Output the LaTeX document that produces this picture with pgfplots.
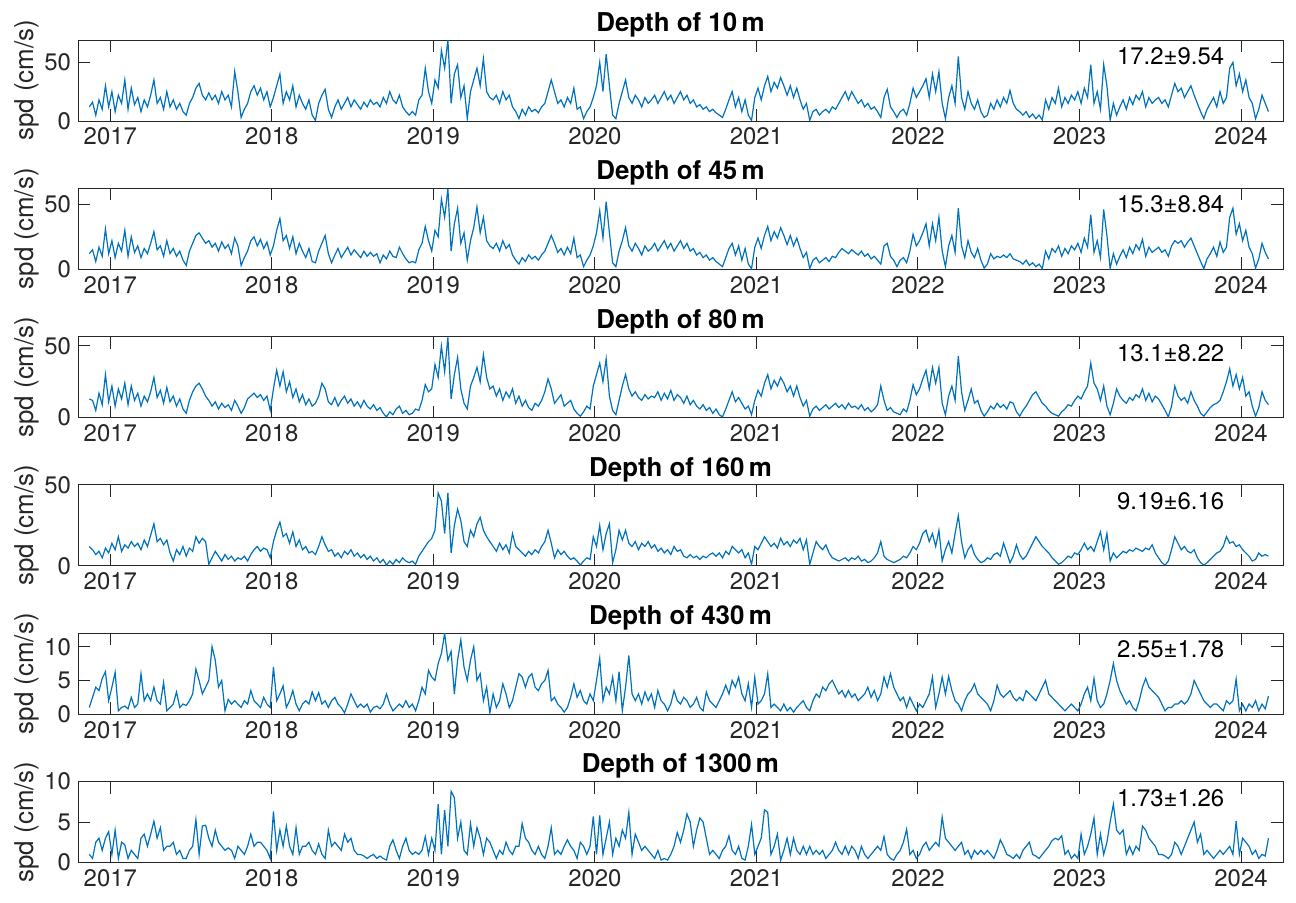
\documentclass[border=0pt]{standalone}
\usepackage{fontspec}
\setmainfont{TeX Gyre Heros}
\usepackage{pgfplots}
\pgfplotsset{compat=1.18}
\usepackage{pgfplotstable}
\definecolor{mblue}{RGB}{0,114,189}
\definecolor{axgray}{RGB}{38,38,38}

% weekly-ish samples (step 0.02 yr from 2016.87)
\pgfplotstableread[row sep=\\]{
v\\
12\\ 16\\ 5\\ 18\\ 10\\ 30\\ 12\\ 25\\ 8\\ 22\\ 15\\ 35\\ 10\\ 28\\ 14\\ 20\\ 8\\ 18\\ 12\\ 22\\ 35\\ 15\\ 20\\ 10\\ 25\\
12\\ 18\\ 10\\ 15\\ 8\\ 5\\ 15\\ 20\\ 28\\ 32\\ 22\\ 18\\ 24\\ 18\\ 22\\ 15\\ 25\\ 18\\ 22\\ 12\\ 42\\ 25\\ 3\\ 10\\ 15\\
25\\ 30\\ 22\\ 28\\ 18\\ 25\\ 12\\ 20\\ 30\\ 40\\ 15\\ 25\\ 18\\ 30\\ 12\\ 22\\ 15\\ 10\\ 18\\ 5\\ 0.5\\ 15\\ 22\\ 27\\ 10\\
3\\ 12\\ 18\\ 10\\ 15\\ 20\\ 12\\ 18\\ 14\\ 10\\ 16\\ 12\\ 18\\ 14\\ 16\\ 12\\ 20\\ 15\\ 25\\ 18\\ 15\\ 22\\ 12\\ 8\\ 5\\
8\\ 5\\ 18\\ 22\\ 45\\ 25\\ 15\\ 35\\ 28\\ 60\\ 45\\ 69\\ 15\\ 40\\ 48\\ 20\\ 30\\ 2\\ 25\\ 35\\ 45\\ 30\\ 53\\ 25\\ 20\\
18\\ 22\\ 15\\ 25\\ 18\\ 22\\ 12\\ 8\\ 2\\ 10\\ 5\\ 12\\ 8\\ 10\\ 7\\ 12\\ 15\\ 25\\ 35\\ 25\\ 15\\ 18\\ 12\\ 20\\ 15\\
28\\ 10\\ 12\\ 2\\ 8\\ 12\\ 20\\ 30\\ 50\\ 25\\ 57\\ 30\\ 5\\ 2\\ 15\\ 25\\ 35\\ 20\\ 15\\ 22\\ 18\\ 12\\ 20\\ 15\\ 18\\
22\\ 15\\ 20\\ 25\\ 18\\ 22\\ 15\\ 20\\ 25\\ 18\\ 22\\ 15\\ 18\\ 12\\ 14\\ 10\\ 12\\ 8\\ 10\\ 7\\ 5\\ 3\\ 10\\ 18\\ 25\\
12\\ 20\\ 8\\ 18\\ 5\\ 0.5\\ 20\\ 28\\ 18\\ 30\\ 38\\ 25\\ 33\\ 28\\ 37\\ 30\\ 22\\ 30\\ 20\\ 28\\ 18\\ 10\\ 15\\ 0.5\\ 8\\
10\\ 5\\ 8\\ 10\\ 7\\ 12\\ 10\\ 15\\ 20\\ 25\\ 18\\ 25\\ 20\\ 15\\ 18\\ 12\\ 15\\ 10\\ 12\\ 8\\ 3\\ 20\\ 27\\ 12\\ 8\\
3\\ 8\\ 10\\ 5\\ 15\\ 28\\ 20\\ 25\\ 30\\ 36\\ 20\\ 40\\ 25\\ 42\\ 15\\ 2\\ 20\\ 30\\ 15\\ 55\\ 20\\ 10\\ 25\\ 15\\ 10\\
18\\ 8\\ 3\\ 5\\ 15\\ 10\\ 18\\ 12\\ 20\\ 15\\ 26\\ 15\\ 10\\ 8\\ 5\\ 8\\ 3\\ 6\\ 2\\ 5\\ 1\\ 18\\ 10\\ 20\\ 15\\
28\\ 12\\ 20\\ 15\\ 22\\ 18\\ 25\\ 15\\ 28\\ 20\\ 48\\ 15\\ 25\\ 10\\ 48\\ 30\\ 0.5\\ 15\\ 5\\ 12\\ 18\\ 10\\ 20\\ 14\\ 22\\
18\\ 25\\ 12\\ 20\\ 15\\ 18\\ 20\\ 15\\ 18\\ 12\\ 22\\ 32\\ 25\\ 28\\ 20\\ 25\\ 30\\ 22\\ 15\\ 8\\ 2\\ 10\\ 15\\ 20\\ 12\\
25\\ 15\\ 20\\ 45\\ 50\\ 30\\ 40\\ 25\\ 35\\ 20\\ 15\\ 2\\ 10\\ 22\\ 15\\ 8\\
}\dA

\pgfplotstableread[row sep=\\]{
v\\
12\\ 15\\ 6\\ 17\\ 10\\ 31\\ 12\\ 22\\ 9\\ 20\\ 14\\ 30\\ 10\\ 25\\ 13\\ 18\\ 9\\ 16\\ 12\\ 20\\ 29\\ 15\\ 18\\ 10\\ 22\\
12\\ 16\\ 10\\ 14\\ 7\\ 3\\ 14\\ 20\\ 26\\ 28\\ 24\\ 20\\ 22\\ 17\\ 20\\ 14\\ 21\\ 16\\ 19\\ 12\\ 24\\ 18\\ 3\\ 9\\ 14\\
22\\ 25\\ 18\\ 23\\ 16\\ 21\\ 11\\ 18\\ 30\\ 39\\ 22\\ 26\\ 16\\ 25\\ 12\\ 20\\ 14\\ 9\\ 16\\ 6\\ 5\\ 14\\ 20\\ 26\\ 12\\
5\\ 11\\ 16\\ 9\\ 13\\ 17\\ 11\\ 15\\ 12\\ 9\\ 14\\ 10\\ 13\\ 10\\ 12\\ 5\\ 11\\ 8\\ 14\\ 10\\ 9\\ 17\\ 12\\ 8\\ 5\\
6\\ 5\\ 15\\ 20\\ 33\\ 22\\ 14\\ 30\\ 25\\ 54\\ 40\\ 62\\ 14\\ 35\\ 47\\ 20\\ 28\\ 7\\ 22\\ 32\\ 48\\ 28\\ 40\\ 22\\ 18\\
16\\ 20\\ 14\\ 22\\ 16\\ 19\\ 11\\ 7\\ 4\\ 9\\ 6\\ 11\\ 8\\ 10\\ 7\\ 11\\ 14\\ 20\\ 26\\ 20\\ 13\\ 16\\ 11\\ 17\\ 12\\
24\\ 9\\ 11\\ 2\\ 7\\ 11\\ 18\\ 28\\ 45\\ 24\\ 52\\ 28\\ 5\\ 2\\ 14\\ 22\\ 32\\ 18\\ 14\\ 20\\ 16\\ 11\\ 18\\ 14\\ 16\\
20\\ 14\\ 18\\ 22\\ 16\\ 20\\ 14\\ 18\\ 22\\ 16\\ 20\\ 14\\ 16\\ 11\\ 13\\ 9\\ 11\\ 7\\ 9\\ 6\\ 4\\ 2\\ 9\\ 16\\ 20\\
11\\ 18\\ 7\\ 16\\ 4\\ 0.5\\ 17\\ 24\\ 16\\ 26\\ 33\\ 22\\ 29\\ 24\\ 32\\ 26\\ 19\\ 26\\ 18\\ 24\\ 16\\ 9\\ 13\\ 0.5\\ 7\\
9\\ 5\\ 7\\ 9\\ 6\\ 10\\ 9\\ 13\\ 16\\ 14\\ 12\\ 15\\ 13\\ 11\\ 14\\ 10\\ 12\\ 8\\ 10\\ 7\\ 4\\ 18\\ 20\\ 10\\ 7\\
2\\ 7\\ 9\\ 5\\ 14\\ 27\\ 18\\ 22\\ 28\\ 35\\ 18\\ 35\\ 22\\ 40\\ 14\\ 2\\ 18\\ 26\\ 13\\ 47\\ 18\\ 9\\ 22\\ 13\\ 9\\
16\\ 7\\ 1\\ 4\\ 12\\ 8\\ 10\\ 9\\ 11\\ 9\\ 12\\ 8\\ 7\\ 6\\ 4\\ 7\\ 3\\ 5\\ 2\\ 4\\ 0.5\\ 14\\ 8\\ 16\\ 13\\
18\\ 10\\ 16\\ 12\\ 18\\ 15\\ 20\\ 13\\ 24\\ 17\\ 42\\ 13\\ 22\\ 9\\ 46\\ 26\\ 0.5\\ 12\\ 4\\ 10\\ 15\\ 9\\ 17\\ 12\\ 19\\
15\\ 23\\ 10\\ 17\\ 13\\ 15\\ 17\\ 13\\ 15\\ 10\\ 18\\ 22\\ 20\\ 22\\ 17\\ 21\\ 24\\ 18\\ 12\\ 6\\ 0.5\\ 8\\ 12\\ 17\\ 10\\
21\\ 13\\ 17\\ 40\\ 47\\ 27\\ 35\\ 22\\ 30\\ 17\\ 12\\ 1\\ 8\\ 20\\ 13\\ 8\\
}\dB

\pgfplotstableread[row sep=\\]{
v\\
13\\ 12\\ 5\\ 17\\ 9\\ 30\\ 11\\ 22\\ 8\\ 20\\ 13\\ 24\\ 9\\ 22\\ 12\\ 17\\ 8\\ 15\\ 11\\ 18\\ 28\\ 14\\ 19\\ 10\\ 21\\
11\\ 15\\ 8\\ 13\\ 6\\ 3\\ 12\\ 18\\ 22\\ 24\\ 20\\ 15\\ 12\\ 8\\ 11\\ 6\\ 10\\ 7\\ 9\\ 5\\ 12\\ 8\\ 3\\ 7\\ 13\\
15\\ 17\\ 14\\ 16\\ 12\\ 15\\ 5\\ 20\\ 33\\ 22\\ 32\\ 18\\ 25\\ 14\\ 20\\ 11\\ 16\\ 9\\ 13\\ 8\\ 10\\ 15\\ 24\\ 20\\ 11\\
9\\ 14\\ 8\\ 12\\ 15\\ 10\\ 13\\ 8\\ 11\\ 7\\ 12\\ 8\\ 6\\ 9\\ 5\\ 7\\ 3\\ 0.5\\ 4\\ 2\\ 6\\ 8\\ 3\\ 5\\ 2\\
3\\ 6\\ 5\\ 12\\ 23\\ 18\\ 20\\ 37\\ 28\\ 50\\ 32\\ 56\\ 13\\ 30\\ 42\\ 20\\ 10\\ 6\\ 22\\ 28\\ 35\\ 25\\ 44\\ 28\\ 20\\
22\\ 15\\ 20\\ 12\\ 18\\ 14\\ 20\\ 10\\ 15\\ 8\\ 12\\ 7\\ 5\\ 10\\ 8\\ 12\\ 18\\ 27\\ 20\\ 10\\ 13\\ 16\\ 8\\ 10\\ 12\\
6\\ 3\\ 1\\ 4\\ 8\\ 6\\ 22\\ 30\\ 38\\ 25\\ 41\\ 15\\ 5\\ 2\\ 12\\ 22\\ 30\\ 20\\ 15\\ 18\\ 14\\ 12\\ 16\\ 13\\ 15\\
14\\ 18\\ 12\\ 17\\ 13\\ 19\\ 12\\ 16\\ 14\\ 10\\ 15\\ 9\\ 12\\ 8\\ 6\\ 9\\ 5\\ 7\\ 3\\ 6\\ 2\\ 0.5\\ 6\\ 12\\ 18\\
11\\ 14\\ 10\\ 6\\ 8\\ 2\\ 12\\ 19\\ 15\\ 24\\ 30\\ 20\\ 26\\ 22\\ 28\\ 24\\ 18\\ 22\\ 15\\ 22\\ 14\\ 8\\ 12\\ 1\\ 6\\
8\\ 5\\ 7\\ 9\\ 6\\ 8\\ 10\\ 7\\ 9\\ 6\\ 10\\ 7\\ 8\\ 6\\ 9\\ 5\\ 7\\ 4\\ 6\\ 9\\ 22\\ 12\\ 5\\ 7\\ 4\\
3\\ 2\\ 6\\ 4\\ 12\\ 23\\ 16\\ 20\\ 27\\ 33\\ 20\\ 35\\ 24\\ 35\\ 10\\ 2\\ 15\\ 22\\ 12\\ 43\\ 18\\ 5\\ 12\\ 20\\ 10\\
12\\ 5\\ 1\\ 4\\ 8\\ 6\\ 10\\ 7\\ 9\\ 6\\ 11\\ 10\\ 4\\ 1\\ 5\\ 8\\ 12\\ 16\\ 18\\ 14\\ 10\\ 8\\ 5\\ 3\\ 2\\
1\\ 4\\ 6\\ 9\\ 8\\ 12\\ 15\\ 13\\ 18\\ 22\\ 38\\ 24\\ 20\\ 12\\ 22\\ 8\\ 2\\ 10\\ 20\\ 15\\ 12\\ 10\\ 14\\ 12\\ 16\\
14\\ 20\\ 12\\ 17\\ 11\\ 15\\ 13\\ 9\\ 5\\ 0.5\\ 8\\ 22\\ 15\\ 12\\ 14\\ 10\\ 18\\ 12\\ 8\\ 3\\ 1\\ 4\\ 7\\ 9\\ 10\\
12\\ 18\\ 25\\ 34\\ 22\\ 30\\ 20\\ 28\\ 15\\ 18\\ 8\\ 1\\ 7\\ 18\\ 12\\ 9\\
}\dC

\pgfplotstableread[row sep=\\]{
v\\
12\\ 10\\ 7\\ 9\\ 5\\ 11\\ 8\\ 14\\ 10\\ 18\\ 9\\ 13\\ 11\\ 15\\ 12\\ 14\\ 10\\ 16\\ 12\\ 19\\ 26\\ 15\\ 17\\ 13\\ 16\\
8\\ 3\\ 10\\ 7\\ 12\\ 6\\ 11\\ 9\\ 18\\ 14\\ 17\\ 15\\ 1\\ 5\\ 9\\ 6\\ 3\\ 7\\ 4\\ 6\\ 3\\ 5\\ 4\\ 6\\ 3\\
7\\ 10\\ 12\\ 9\\ 11\\ 10\\ 5\\ 15\\ 22\\ 27\\ 18\\ 20\\ 14\\ 21\\ 12\\ 16\\ 10\\ 12\\ 8\\ 9\\ 7\\ 12\\ 18\\ 13\\ 9\\
10\\ 6\\ 8\\ 5\\ 9\\ 7\\ 10\\ 6\\ 8\\ 5\\ 7\\ 4\\ 6\\ 3\\ 5\\ 2\\ 4\\ 0.5\\ 3\\ 1\\ 4\\ 2\\ 5\\ 3\\ 2\\
3\\ 1\\ 6\\ 9\\ 12\\ 15\\ 17\\ 22\\ 45\\ 40\\ 20\\ 45\\ 8\\ 25\\ 35\\ 28\\ 15\\ 12\\ 22\\ 18\\ 26\\ 30\\ 22\\ 18\\ 15\\
12\\ 9\\ 14\\ 10\\ 13\\ 8\\ 20\\ 12\\ 10\\ 8\\ 6\\ 9\\ 7\\ 10\\ 8\\ 12\\ 15\\ 22\\ 14\\ 5\\ 10\\ 7\\ 9\\ 6\\ 4\\
5\\ 3\\ 0.5\\ 3\\ 5\\ 4\\ 18\\ 12\\ 25\\ 10\\ 20\\ 26\\ 2\\ 10\\ 22\\ 16\\ 22\\ 14\\ 12\\ 15\\ 10\\ 14\\ 12\\ 15\\ 11\\
13\\ 9\\ 11\\ 8\\ 10\\ 7\\ 12\\ 9\\ 10\\ 6\\ 5\\ 7\\ 5\\ 6\\ 4\\ 6\\ 5\\ 7\\ 8\\ 6\\ 8\\ 5\\ 9\\ 7\\ 12\\
10\\ 8\\ 10\\ 5\\ 8\\ 1\\ 12\\ 10\\ 14\\ 18\\ 15\\ 12\\ 14\\ 11\\ 17\\ 13\\ 15\\ 12\\ 16\\ 14\\ 17\\ 10\\ 16\\ 1\\ 8\\
15\\ 12\\ 10\\ 13\\ 8\\ 5\\ 4\\ 3\\ 4\\ 5\\ 3\\ 5\\ 4\\ 6\\ 3\\ 4\\ 2\\ 3\\ 5\\ 8\\ 15\\ 6\\ 4\\ 3\\ 2\\
3\\ 4\\ 6\\ 5\\ 8\\ 12\\ 10\\ 14\\ 20\\ 22\\ 15\\ 20\\ 12\\ 22\\ 3\\ 10\\ 15\\ 8\\ 20\\ 31\\ 15\\ 5\\ 10\\ 13\\ 7\\
4\\ 2\\ 3\\ 5\\ 4\\ 7\\ 8\\ 6\\ 14\\ 8\\ 2\\ 6\\ 13\\ 7\\ 4\\ 6\\ 10\\ 14\\ 18\\ 15\\ 12\\ 10\\ 8\\ 5\\ 3\\
1\\ 2\\ 4\\ 6\\ 5\\ 8\\ 7\\ 10\\ 14\\ 10\\ 12\\ 9\\ 15\\ 21\\ 10\\ 20\\ 3\\ 8\\ 5\\ 7\\ 9\\ 8\\ 10\\ 9\\ 11\\
10\\ 9\\ 11\\ 10\\ 13\\ 8\\ 5\\ 2\\ 0.5\\ 3\\ 10\\ 18\\ 14\\ 10\\ 12\\ 9\\ 8\\ 10\\ 5\\ 2\\ 0.5\\ 2\\ 4\\ 6\\ 8\\
9\\ 12\\ 18\\ 14\\ 15\\ 12\\ 13\\ 10\\ 8\\ 6\\ 3\\ 4\\ 8\\ 6\\ 7\\ 6\\
}\dD

\pgfplotstableread[row sep=\\]{
v\\
1\\ 2.5\\ 4\\ 3.5\\ 5.3\\ 6.3\\ 2\\ 4\\ 6.2\\ 0.5\\ 1\\ 1.2\\ 0.8\\ 2.5\\ 1\\ 1.5\\ 6\\ 2\\ 3\\ 2\\ 4\\ 2\\ 1.5\\ 4.7\\ 0.5\\
1\\ 1.5\\ 3.3\\ 1\\ 1.5\\ 1.3\\ 2\\ 3\\ 6.7\\ 5\\ 3\\ 4\\ 5\\ 10\\ 8\\ 4\\ 5\\ 0.5\\ 2.2\\ 1.5\\ 2\\ 1.5\\ 1\\ 2\\ 1.5\\
3.5\\ 2\\ 1.5\\ 1\\ 2.5\\ 1.5\\ 1\\ 7\\ 2\\ 3\\ 4.2\\ 1\\ 2\\ 3.5\\ 1.5\\ 0.5\\ 1.5\\ 2\\ 1.5\\ 3.3\\ 2\\ 3.2\\ 1.5\\ 2\\ 1\\
2\\ 2.5\\ 1.5\\ 1\\ 0.2\\ 1.5\\ 3\\ 2\\ 1\\ 1.5\\ 1\\ 1.5\\ 0.3\\ 1\\ 1.2\\ 0.8\\ 1.5\\ 3\\ 1.5\\ 0.5\\ 1\\ 1.5\\ 1\\ 2\\ 1\\
1.5\\ 0.5\\ 2\\ 4\\ 3\\ 6.5\\ 5.5\\ 5\\ 7.5\\ 9\\ 12\\ 8\\ 9.3\\ 3\\ 8\\ 11\\ 7\\ 5\\ 8\\ 10\\ 5\\ 6\\ 2\\ 4\\ 0.2\\
3\\ 1\\ 2\\ 4.5\\ 3\\ 1\\ 2\\ 4\\ 6\\ 5.5\\ 4\\ 5.5\\ 6\\ 4\\ 3.5\\ 4.5\\ 5\\ 6.5\\ 2\\ 2.5\\ 1.5\\ 1\\ 0.3\\ 1\\ 2.5\\
4.5\\ 2.5\\ 3.5\\ 2\\ 1.5\\ 3\\ 2\\ 5\\ 8.3\\ 2\\ 4\\ 3\\ 5.5\\ 2\\ 6.3\\ 0.5\\ 4\\ 8.7\\ 3\\ 2\\ 3\\ 1.5\\ 3.3\\ 2\\ 3\\
1\\ 3.5\\ 2\\ 1.5\\ 0.5\\ 1.5\\ 3.5\\ 2\\ 1.5\\ 2.5\\ 2\\ 1\\ 1.5\\ 2.5\\ 1\\ 0.5\\ 3.3\\ 2\\ 1.5\\ 1\\ 2\\ 3\\ 4.3\\ 3\\ 5\\
4\\ 5.5\\ 3\\ 2\\ 4.5\\ 1\\ 5.5\\ 1.5\\ 2\\ 3\\ 6\\ 1\\ 1.5\\ 1\\ 0.5\\ 1.5\\ 0.5\\ 1\\ 0.3\\ 1\\ 1.5\\ 2\\ 1\\ 0.5\\ 2\\
3\\ 2.5\\ 4\\ 3.5\\ 4.5\\ 5\\ 4\\ 3\\ 3.5\\ 2.5\\ 3.5\\ 2.5\\ 3\\ 2\\ 2.5\\ 3\\ 4\\ 2.5\\ 3.5\\ 2\\ 3\\ 5.5\\ 4\\ 6\\ 4\\
3\\ 2\\ 2.5\\ 1\\ 2.5\\ 1.5\\ 0.5\\ 1.5\\ 1\\ 2\\ 3\\ 5.5\\ 1\\ 3\\ 5.5\\ 3\\ 5.6\\ 3.5\\ 2\\ 1.5\\ 0.5\\ 2\\ 3\\ 3.5\\ 4.5\\
3\\ 2.5\\ 2\\ 1.5\\ 0.5\\ 2\\ 4.3\\ 3\\ 2.5\\ 3\\ 3.5\\ 2.5\\ 2\\ 2.5\\ 2\\ 3.5\\ 3\\ 2.5\\ 2\\ 3\\ 4\\ 5\\ 3\\ 2.5\\ 2\\
1.5\\ 1\\ 0.5\\ 1\\ 1.5\\ 1\\ 0.5\\ 1.5\\ 3\\ 4\\ 2\\ 5.3\\ 2\\ 1\\ 1.5\\ 3\\ 5\\ 7.5\\ 5\\ 3.5\\ 2.5\\ 1.5\\ 2\\ 1\\ 0.5\\
2\\ 4\\ 5.3\\ 4\\ 3.5\\ 3\\ 2.5\\ 1.5\\ 0.5\\ 1\\ 1\\ 1.5\\ 1.5\\ 2\\ 1.5\\ 2\\ 3\\ 5\\ 4\\ 3\\ 2\\ 1.5\\ 1\\ 1.5\\ 1.5\\
1\\ 0.5\\ 2\\ 1.5\\ 2\\ 5.2\\ 0.5\\ 1.5\\ 0.5\\ 1.5\\ 1\\ 2\\ 0.5\\ 1.5\\ 0.8\\ 2.7\\
}\dE

\pgfplotstableread[row sep=\\]{
v\\
1\\ 0.5\\ 2.5\\ 3\\ 1.5\\ 3\\ 3.8\\ 1\\ 4\\ 0.5\\ 2.5\\ 2.2\\ 0.5\\ 1.5\\ 1\\ 0.5\\ 3\\ 3.5\\ 2\\ 3.5\\ 5.1\\ 3\\ 4.3\\ 1.5\\ 2\\
2\\ 2.5\\ 1\\ 1.5\\ 0.5\\ 0.5\\ 1.5\\ 2\\ 5.3\\ 1\\ 4.5\\ 4.6\\ 3\\ 2\\ 4\\ 2.5\\ 2\\ 1.5\\ 1.8\\ 1.5\\ 0.5\\ 2\\ 1.5\\ 1\\ 2\\
3.5\\ 2\\ 2.5\\ 2.5\\ 2\\ 1.5\\ 0.5\\ 6.3\\ 1.5\\ 4\\ 2\\ 4.5\\ 2\\ 1\\ 4.3\\ 1\\ 2\\ 2\\ 2.5\\ 1.5\\ 1\\ 2.3\\ 1\\ 0.5\\ 4\\
2\\ 2.5\\ 2\\ 1.5\\ 3.5\\ 2.5\\ 3\\ 1.5\\ 1\\ 1\\ 0.8\\ 0.5\\ 0.8\\ 1\\ 0.5\\ 0.8\\ 0.5\\ 0.3\\ 2\\ 2.8\\ 1.5\\ 0.5\\ 2\\ 3\\ 1.5\\
1\\ 1.3\\ 1\\ 1.5\\ 3.2\\ 1\\ 3\\ 1.5\\ 7.2\\ 1\\ 6.5\\ 2\\ 8.8\\ 8\\ 3\\ 5\\ 1.5\\ 1\\ 4.8\\ 2\\ 4.3\\ 3\\ 1\\ 3\\ 2.5\\
1.5\\ 0.5\\ 1.5\\ 1\\ 2.5\\ 1.5\\ 1\\ 2\\ 2\\ 4.8\\ 3\\ 2.5\\ 1.5\\ 1\\ 2\\ 1\\ 0.5\\ 2\\ 4.3\\ 1\\ 1.5\\ 1\\ 2\\ 2.8\\ 2\\
1.5\\ 0.5\\ 2.5\\ 2\\ 1\\ 2\\ 5.7\\ 1\\ 5.8\\ 1\\ 3\\ 5\\ 1\\ 3\\ 2\\ 4\\ 3\\ 6.2\\ 1\\ 3.5\\ 2.5\\ 1.5\\ 2\\ 1.5\\ 1\\
0.5\\ 1.5\\ 0.3\\ 0.5\\ 0.3\\ 1\\ 2\\ 3.7\\ 2.5\\ 4\\ 6\\ 5\\ 2\\ 4\\ 5.5\\ 5\\ 3\\ 1\\ 1.5\\ 1\\ 0.5\\ 1.5\\ 2\\ 3.3\\ 1.5\\
1\\ 2\\ 0.5\\ 0.3\\ 2\\ 4.7\\ 1\\ 2\\ 3\\ 6.5\\ 6.2\\ 1\\ 2\\ 3.5\\ 0.3\\ 1.5\\ 3\\ 1\\ 3\\ 1.5\\ 1\\ 2\\ 1\\ 2\\ 1\\
1.5\\ 1\\ 1.5\\ 0.5\\ 1\\ 1.5\\ 2.5\\ 1.5\\ 1\\ 2\\ 1\\ 2\\ 1.5\\ 0.5\\ 2\\ 1\\ 0.5\\ 1\\ 1.5\\ 2\\ 1.5\\ 3.2\\ 1\\ 0.5\\ 0.3\\
1\\ 1.5\\ 2.5\\ 4.1\\ 1\\ 1.5\\ 0.5\\ 1\\ 2\\ 2.5\\ 1.5\\ 2\\ 2.5\\ 2\\ 5.6\\ 3\\ 2.5\\ 2\\ 1.5\\ 2\\ 2.5\\ 1\\ 1.5\\ 0.5\\ 1.5\\
1\\ 1.5\\ 1\\ 1.5\\ 1\\ 0.5\\ 1.5\\ 2.8\\ 2\\ 1\\ 0.8\\ 0.5\\ 1\\ 0.5\\ 1.5\\ 2\\ 2.5\\ 1\\ 0.8\\ 0.5\\ 1\\ 1.5\\ 2\\ 2.7\\ 3\\
2.8\\ 3.3\\ 1\\ 1.5\\ 0.5\\ 1\\ 0.5\\ 3.5\\ 1\\ 2\\ 3.5\\ 5.5\\ 1\\ 3.5\\ 1\\ 2.5\\ 5\\ 7.2\\ 4\\ 3.5\\ 4\\ 1\\ 2\\ 1\\ 2\\
1.5\\ 4.5\\ 4\\ 3\\ 2.5\\ 2\\ 1\\ 1\\ 0.8\\ 0.5\\ 1\\ 2.5\\ 2\\ 1\\ 2\\ 3\\ 4\\ 5\\ 2.5\\ 3.5\\ 1\\ 1.5\\ 1\\ 0.5\\ 1\\
1.5\\ 1\\ 1.5\\ 2\\ 1\\ 5.1\\ 1\\ 3\\ 2.5\\ 2\\ 1\\ 1.5\\ 0.5\\ 1\\ 0.8\\ 3\\
}\dF

\pgfplotsset{
  spdaxis/.style={
    scale only axis, width=602.5bp, height=40.5bp,
    anchor=north west,
    xmin=2016.80, xmax=2024.26, ymin=0,
    xtick={2017,2018,2019,2020,2021,2022,2023,2024},
    xticklabels={2017,2018,2019,2020,2021,2022,2023,2024},
    tick align=inside, xtick pos=both, ytick pos=both,
    xticklabel pos=lower, yticklabel pos=left,
    major tick length=6bp,
    axis line style={draw=axgray, line width=0.5bp},
    tick style={draw=axgray, line width=0.5bp},
    tick label style={font=\fontsize{12}{14}\selectfont, text=axgray},
    /pgf/number format/assume math mode=true,
    ylabel={spd (cm/s)},
    every axis y label/.style={at={(axis description cs:-0.0423,0.5)}, rotate=90, anchor=center,
      font=\fontsize{13}{15}\selectfont, text=axgray},
    title style={at={(axis description cs:0.5,1)}, anchor=base, yshift=-1.7bp, inner sep=0pt,
      font=\fontsize{13}{15}\selectfont\bfseries},
  },
  spdline/.style={draw=mblue, line width=0.6bp, mark=none},
}
\newcommand{\stat}[1]{\node[anchor=west, inner sep=0pt, font=\fontsize{12}{14}\selectfont] at (rel axis cs:0.862,0.8) {#1};}

\begin{document}
\begin{tikzpicture}
\path[use as bounding box] (0,0) rectangle (648bp,-451.5bp);

\begin{axis}[spdaxis, at={(39bp,-20bp)}, ymax=69, ytick={0,50}, title={Depth of 10\,m}]
\addplot[spdline] table[x expr=2016.87+0.02*\coordindex, y=v] {\dA};
\stat{17.2±9.54}
\end{axis}

\begin{axis}[spdaxis, at={(39bp,-94.15bp)}, ymax=62.3, ytick={0,50}, title={Depth of 45\,m}]
\addplot[spdline] table[x expr=2016.87+0.02*\coordindex, y=v] {\dB};
\stat{15.3±8.84}
\end{axis}

\begin{axis}[spdaxis, at={(39bp,-168.3bp)}, ymax=56.5, ytick={0,50}, title={Depth of 80\,m}]
\addplot[spdline] table[x expr=2016.87+0.02*\coordindex, y=v] {\dC};
\stat{13.1±8.22}
\end{axis}

\begin{axis}[spdaxis, at={(39bp,-242.45bp)}, ymax=50, ytick={0,50}, title={Depth of 160\,m}]
\addplot[spdline] table[x expr=2016.87+0.02*\coordindex, y=v] {\dD};
\stat{9.19±6.16}
\end{axis}

\begin{axis}[spdaxis, at={(39bp,-316.6bp)}, ymax=12, ytick={0,5,10}, title={Depth of 430\,m}]
\addplot[spdline] table[x expr=2016.87+0.02*\coordindex, y=v] {\dE};
\stat{2.55±1.78}
\end{axis}

\begin{axis}[spdaxis, at={(39bp,-390.75bp)}, ymax=10, ytick={0,5,10}, title={Depth of 1300\,m}]
\addplot[spdline] table[x expr=2016.87+0.02*\coordindex, y=v] {\dF};
\stat{1.73±1.26}
\end{axis}
\end{tikzpicture}
\end{document}
